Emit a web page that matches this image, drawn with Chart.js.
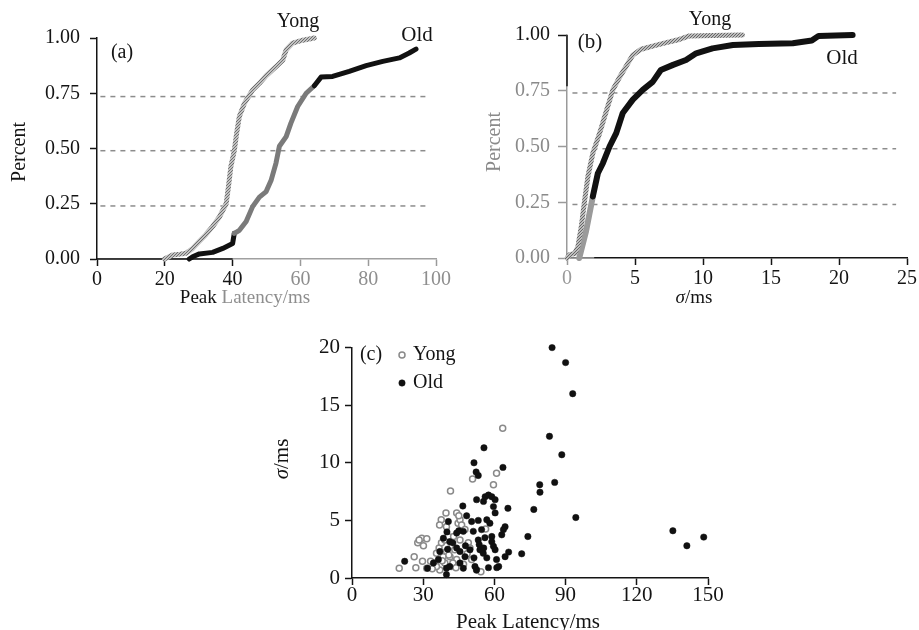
<!DOCTYPE html>
<html>
<head>
<meta charset="utf-8">
<script src="https://cdn.jsdelivr.net/npm/chart.js@4.4.0/dist/chart.umd.min.js"></script>
<style>
  html, body { margin: 0; padding: 0; background: #fff; }
  body { width: 919px; height: 630px; position: relative; overflow: hidden; }
  canvas { position: absolute; }
</style>
</head>
<body>
<canvas id="chartA" width="460" height="320" style="left:0;top:0"></canvas>
<canvas id="chartB" width="459" height="320" style="left:460px;top:0"></canvas>
<canvas id="chartC" width="480" height="300" style="left:260px;top:330px"></canvas>
<script>
// (a) cumulative distribution of peak latency (ms -> fraction)
const latYongMs  = [19.9, 22.3, 24.5, 26.3, 28.2, 30.2, 32.1, 34.1, 36.1, 38.1, 38.8, 39.5, 40.5, 41.2, 42.0, 43.5, 45.9, 47.9, 49.9, 52.8, 54.8, 55.8, 57.7, 60.7, 64.1];
const latYongPct = [0, 0.018, 0.022, 0.026, 0.048, 0.08, 0.11, 0.147, 0.19, 0.25, 0.33, 0.42, 0.49, 0.57, 0.645, 0.705, 0.765, 0.795, 0.83, 0.87, 0.90, 0.947, 0.977, 0.99, 1.0];
const latOldMs   = [27.2, 28.2, 30.2, 34.1, 37.1, 40.0, 40.5, 42.0, 44.0, 45.9, 47.9, 49.9, 51.4, 52.8, 53.8, 55.8, 57.2, 59.2, 61.7, 64.1, 66.1, 69.5, 74.4, 79.4, 84.3, 89.2, 92.1, 94.1];
const latOldPct  = [0, 0.01, 0.023, 0.03, 0.048, 0.07, 0.116, 0.13, 0.17, 0.237, 0.28, 0.305, 0.358, 0.434, 0.51, 0.554, 0.615, 0.69, 0.75, 0.784, 0.823, 0.826, 0.849, 0.875, 0.894, 0.91, 0.932, 0.95];
const latRefPct  = [0.735, 0.49, 0.24];
const latRefSpan = [1, 97];
const latTicks   = [0, 20, 40, 60, 80, 100];

// (b) cumulative distribution of sigma
const sigYongMs  = [0, 0.2, 0.56, 0.8, 1.05, 1.3, 1.54, 1.9, 2.4, 2.9, 3.37, 3.86, 4.35, 4.84, 5.45, 6.3, 7.3, 8.26, 9.0, 10.7, 12.9];
const sigYongPct = [0, 0.015, 0.02, 0.05, 0.14, 0.26, 0.366, 0.47, 0.56, 0.66, 0.754, 0.81, 0.86, 0.91, 0.936, 0.95, 0.966, 0.98, 0.996, 0.998, 1.0];
const sigOldMs   = [0.9, 1.4, 1.9, 2.27, 2.64, 3.13, 3.62, 4.1, 4.84, 5.57, 6.3, 6.9, 7.8, 8.75, 9.5, 10.7, 12.2, 14.1, 16.6, 18.0, 18.5, 21.0];
const sigOldPct  = [0, 0.12, 0.276, 0.38, 0.425, 0.5, 0.56, 0.65, 0.71, 0.754, 0.79, 0.843, 0.866, 0.888, 0.918, 0.94, 0.955, 0.96, 0.963, 0.975, 0.996, 1.0];
const sigRefPct  = [0.74, 0.49, 0.24];
const sigRefSpan = [0.4, 24.2];
const sigTicks   = [0, 5, 10, 15, 20, 25];
const pctTicks   = [0, 0.25, 0.5, 0.75, 1];

// (c) peak latency vs sigma per unit
const scYongLat = [63.5, 60.9, 50.8, 59.6, 41.5, 39.6, 44.1, 37.6, 36.9, 56.3, 27.7, 29.4, 31.5, 28.3, 30.1, 26.2, 19.9, 26.9, 29.7, 31.5, 33.1, 34.9, 35.6, 36.7, 37.7, 39.1, 40.5, 42.8, 42.1, 41.3, 43.3, 44.1, 45.5, 44.7, 45.5, 46.2, 47.6, 49.0, 49.7, 50.4, 52.5, 54.3, 39.1, 37.0, 35.6, 39.8, 38.4, 41.9, 39.8, 38.0, 40.8, 42.5, 47.0, 48.5, 45.0, 33.8, 43.8];
const scYongSig = [13.0, 9.1, 8.6, 8.1, 7.55, 5.65, 5.65, 5.05, 4.6, 4.25, 3.05, 3.45, 3.4, 3.3, 2.8, 1.85, 0.85, 0.9, 1.45, 0.85, 1.45, 1.3, 2.15, 2.6, 3.05, 3.3, 3.6, 3.6, 2.75, 1.85, 2.45, 1.6, 3.3, 4.75, 5.05, 4.6, 4.2, 3.05, 2.6, 1.6, 0.7, 0.55, 1.3, 0.7, 1.0, 2.3, 1.85, 1.0, 4.45, 1.5, 2.0, 1.3, 1.2, 2.1, 5.4, 0.8, 0.9];
const scOldLat  = [84.3, 90.0, 93.0, 83.2, 88.4, 85.4, 79.1, 79.2, 76.6, 94.3, 74.1, 71.5, 135.2, 141.1, 148.2, 55.6, 51.4, 52.3, 53.2, 63.6, 65.7, 66.0, 64.5, 60.9, 61.8, 55.4, 56.1, 57.5, 58.9, 60.3, 52.5, 59.6, 60.3, 56.8, 58.1, 64.5, 63.8, 63.1, 58.9, 58.9, 59.6, 60.3, 57.5, 46.7, 48.3, 40.6, 50.4, 53.2, 44.1, 46.9, 51.1, 54.6, 38.5, 41.2, 53.2, 53.6, 53.9, 37.0, 44.1, 45.5, 47.6, 49.7, 51.4, 55.3, 56.8, 22.2, 31.8, 36.4, 34.3, 39.8, 41.2, 45.5, 46.9, 39.8, 51.8, 52.5, 42.5, 40.0, 40.3, 45.0, 61.0, 47.8, 55.5, 56.0];
const scOldSig  = [20.0, 18.7, 16.0, 12.3, 10.7, 8.3, 8.1, 7.45, 5.95, 5.25, 3.6, 2.1, 4.1, 2.8, 3.55, 11.3, 10.0, 9.2, 8.9, 9.6, 6.05, 2.25, 1.85, 1.6, 1.0, 6.65, 7.05, 7.2, 7.05, 6.8, 6.8, 6.2, 5.65, 5.05, 4.75, 4.45, 4.2, 3.75, 3.6, 3.15, 2.75, 2.45, 0.9, 6.25, 5.4, 4.9, 4.9, 5.0, 3.9, 4.05, 4.05, 4.2, 3.45, 3.15, 3.3, 2.9, 2.45, 2.3, 2.6, 2.3, 1.85, 2.45, 1.75, 2.15, 1.75, 1.45, 0.85, 1.6, 1.3, 0.85, 1.0, 1.3, 0.85, 0.3, 1.0, 0.7, 3.05, 4.0, 2.5, 4.1, 0.9, 2.8, 2.6, 3.5];
const scLatTicks = [0, 30, 60, 90, 120, 150];
const scSigTicks = [0, 5, 10, 15, 20];

const SERIF = '"Liberation Serif", "DejaVu Serif", serif';
const INK = '#141414';

const pts = (xs, ys) => xs.map((x, i) => ({ x: x, y: ys[i] }));
const refLine = (level, span) => ({
  data: [{ x: span[0], y: level }, { x: span[1], y: level }],
  showLine: true, borderColor: '#8c8c8c', borderWidth: 1.5, borderDash: [5, 5],
  pointRadius: 0, order: 5
});

// light gray speckle used for the "Yong" curves
function speckle(id, dark, light) {
  const c = document.createElement('canvas');
  c.width = 3; c.height = 3;
  const g = c.getContext('2d');
  g.fillStyle = light; g.fillRect(0, 0, 3, 3);
  g.fillStyle = dark;
  g.fillRect(0, 0, 1, 1); g.fillRect(2, 1, 1, 1); g.fillRect(1, 2, 1, 1);
  return document.getElementById(id).getContext('2d').createPattern(c, 'repeat');
}

function axis(o) {
  return {
    type: 'linear', min: o.min, max: o.max,
    afterBuildTicks: s => { s.ticks = o.ticks.map(v => ({ value: v })); },
    afterFit: o.fit,
    ticks: {
      autoSkip: false, maxRotation: 0, padding: o.pad,
      color: o.labelColor || INK,
      font: { family: SERIF, size: o.size },
      callback: o.fmt || (v => String(v))
    },
    grid: { drawOnChartArea: false, drawTicks: true, tickLength: o.tickLen, tickWidth: 1.5, tickColor: o.markColor || INK },
    border: { display: true, color: o.borderColor || INK, width: 1.5 }
  };
}

// texts drawn at canvas-local positions; runs allow mixed italic / colour
function textPlugin(items) {
  return {
    id: 'texts',
    afterDraw(chart) {
      const ctx = chart.ctx;
      items.forEach(it => {
        const runs = Array.isArray(it.text) ? it.text : [{ t: it.text }];
        ctx.save();
        ctx.translate(it.x, it.y);
        if (it.rotate) ctx.rotate(it.rotate);
        let total = 0;
        runs.forEach(r => {
          ctx.font = (r.italic ? 'italic ' : '') + it.size + 'px ' + SERIF;
          r.w = ctx.measureText(r.t).width;
          total += r.w;
        });
        let x = it.align === 'left' ? 0 : -total / 2;
        ctx.textBaseline = 'middle';
        ctx.textAlign = 'left';
        runs.forEach(r => {
          ctx.font = (r.italic ? 'italic ' : '') + it.size + 'px ' + SERIF;
          ctx.fillStyle = r.color || it.color || INK;
          ctx.fillText(r.t, x, 0);
          x += r.w;
        });
        ctx.restore();
      });
    }
  };
}

// re-tint part of an axis line (the scan has light and dark stretches)
function axisTint(parts) {
  return {
    id: 'axisTint',
    beforeDatasetsDraw(chart) {
      const ctx = chart.ctx, a = chart.chartArea;
      parts.forEach(p => {
        const s = chart.scales[p.axis];
        ctx.save();
        ctx.strokeStyle = p.color; ctx.lineWidth = 1.5;
        ctx.beginPath();
        if (p.axis === 'x') {
          ctx.moveTo(s.getPixelForValue(p.from), a.bottom);
          ctx.lineTo(s.getPixelForValue(p.to), a.bottom);
        } else {
          ctx.moveTo(a.left, s.getPixelForValue(p.from));
          ctx.lineTo(a.left, s.getPixelForValue(p.to));
        }
        ctx.stroke();
        ctx.restore();
      });
    }
  };
}

const baseOpts = {
  responsive: false, animation: false, events: [],
  plugins: { legend: { display: false }, tooltip: { enabled: false } }
};

// ---------- (a) ----------
new Chart(document.getElementById('chartA'), {
  type: 'scatter',
  data: {
    datasets: [
      { data: pts(latYongMs, latYongPct), showLine: true, borderColor: speckle('chartA', '#6e6e6e', '#c2c2c2'),
        borderWidth: 5, pointRadius: 0, clip: false, borderCapStyle: 'round', borderJoinStyle: 'round', order: 1 },
      { data: pts(latOldMs, latOldPct), showLine: true, borderColor: '#111', borderWidth: 5, pointRadius: 0, clip: false,
        borderCapStyle: 'round', borderJoinStyle: 'round', order: 1,
        segment: { borderColor: c => (c.p0.parsed.x >= 40.5 && c.p1.parsed.x <= 64.1) ? '#7a7a7a' : '#111' } },
      ...latRefPct.map(v => refLine(v, latRefSpan))
    ]
  },
  options: Object.assign({}, baseOpts, {
    layout: { padding: { left: 0, top: 38, right: 24, bottom: 21 } },
    scales: {
      x: axis({ min: 0, max: 100, ticks: latTicks, size: 20, pad: 2, tickLen: 7,
        labelColor: c => c.tick.value <= 40 ? INK : '#8e8e8e',
        markColor: c => c.tick.value <= 40 ? INK : '#9a9a9a',
        borderColor: '#a0a0a0', fit: s => { s.height = 40; } }),
      y: axis({ min: 0, max: 1, ticks: pctTicks, size: 20, pad: 10, tickLen: 7,
        fmt: v => v.toFixed(2), fit: s => { s.width = 97; } })
    }
  }),
  plugins: [
    axisTint([{ axis: 'x', from: 0, to: 40, color: INK }]),
    textPlugin([
      { text: 'Yong', x: 298, y: 22, size: 20 },
      { text: 'Old', x: 417, y: 35, size: 21 },
      { text: '(a)', x: 122, y: 53, size: 20 },
      { text: 'Percent', x: 20, y: 152, size: 20, rotate: -Math.PI / 2 },
      { text: [{ t: 'Peak ' }, { t: 'Latency/ms', color: '#8e8e8e' }], x: 245, y: 298, size: 19 }
    ])
  ]
});

// ---------- (b) ----------
new Chart(document.getElementById('chartB'), {
  type: 'scatter',
  data: {
    datasets: [
      { data: pts(sigYongMs, sigYongPct), showLine: true, borderColor: speckle('chartB', '#666666', '#bdbdbd'),
        borderWidth: 5, pointRadius: 0, clip: false, borderCapStyle: 'round', borderJoinStyle: 'round', order: 1 },
      { data: pts(sigOldMs, sigOldPct), showLine: true, borderColor: '#111', borderWidth: 6, pointRadius: 0, clip: false,
        borderCapStyle: 'round', borderJoinStyle: 'round', order: 1,
        segment: { borderColor: c => c.p1.parsed.x <= 1.9 ? '#9a9a9a' : '#111' } },
      ...sigRefPct.map(v => refLine(v, sigRefSpan))
    ]
  },
  options: Object.assign({}, baseOpts, {
    layout: { padding: { left: 0, top: 35, right: 11, bottom: 22 } },
    scales: {
      x: axis({ min: 0, max: 25, ticks: sigTicks, size: 20, pad: 2, tickLen: 7,
        labelColor: c => c.tick.value === 0 ? '#9a9a9a' : INK,
        markColor: c => c.tick.value === 0 ? '#9a9a9a' : INK,
        fit: s => { s.height = 40; } }),
      y: axis({ min: 0, max: 1, ticks: pctTicks, size: 20, pad: 8, tickLen: 9,
        fmt: v => v.toFixed(2),
        labelColor: c => c.tick.value === 1 ? INK : '#8a8a8a',
        markColor: c => c.tick.value === 1 ? INK : '#9a9a9a',
        borderColor: '#9a9a9a', fit: s => { s.width = 107; } })
    }
  }),
  plugins: [
    axisTint([{ axis: 'x', from: 0, to: 2, color: '#a8a8a8' }, { axis: 'y', from: 0.77, to: 1, color: INK }]),
    textPlugin([
      { text: 'Yong', x: 250, y: 20, size: 20 },
      { text: 'Old', x: 382, y: 58, size: 21 },
      { text: '(b)', x: 130, y: 42, size: 21 },
      { text: 'Percent', x: 35, y: 142, size: 20, rotate: -Math.PI / 2, color: '#8a8a8a' },
      { text: [{ t: 'σ', italic: true }, { t: '/ms' }], x: 234, y: 298, size: 19 }
    ])
  ]
});

// ---------- (c) ----------
new Chart(document.getElementById('chartC'), {
  type: 'scatter',
  data: {
    datasets: [
      { label: 'Old', data: pts(scOldLat, scOldSig), backgroundColor: '#111', borderColor: '#111',
        borderWidth: 0.5, pointRadius: 3.2, clip: false },
      { label: 'Yong', data: pts(scYongLat, scYongSig), backgroundColor: '#ffffff', borderColor: '#8a8a8a',
        borderWidth: 1.5, pointRadius: 3, clip: false }
    ]
  },
  options: Object.assign({}, baseOpts, {
    layout: { padding: { left: 0, top: 17, right: 32, bottom: 0 } },
    scales: {
      x: axis({ min: 0, max: 150, ticks: scLatTicks, size: 21, pad: -2, tickLen: 7,
        fit: s => { s.height = 52; } }),
      y: axis({ min: 0, max: 20, ticks: scSigTicks, size: 21, pad: 5, tickLen: 7,
        fit: s => { s.width = 92; } })
    }
  }),
  plugins: [
    {
      id: 'legendC',
      afterDraw(chart) {
        const ctx = chart.ctx;
        const ds = chart.data.datasets;
        [[ds[1], 142, 25], [ds[0], 142, 53]].forEach(([d, x, y]) => {
          ctx.save();
          ctx.beginPath();
          ctx.arc(x, y, d.pointRadius, 0, Math.PI * 2);
          ctx.fillStyle = d.backgroundColor; ctx.fill();
          ctx.lineWidth = d.borderWidth; ctx.strokeStyle = d.borderColor; ctx.stroke();
          ctx.restore();
        });
      }
    },
    textPlugin([
      { text: '(c)', x: 111, y: 25, size: 20 },
      { text: 'Yong', x: 153, y: 25, size: 20, align: 'left' },
      { text: 'Old', x: 153, y: 53, size: 20, align: 'left' },
      { text: [{ t: 'σ', italic: true }, { t: '/ms' }], x: 22, y: 129, size: 21, rotate: -Math.PI / 2 },
      { text: 'Peak Latency/ms', x: 268, y: 292, size: 21 }
    ])
  ]
});
</script>
</body>
</html>
